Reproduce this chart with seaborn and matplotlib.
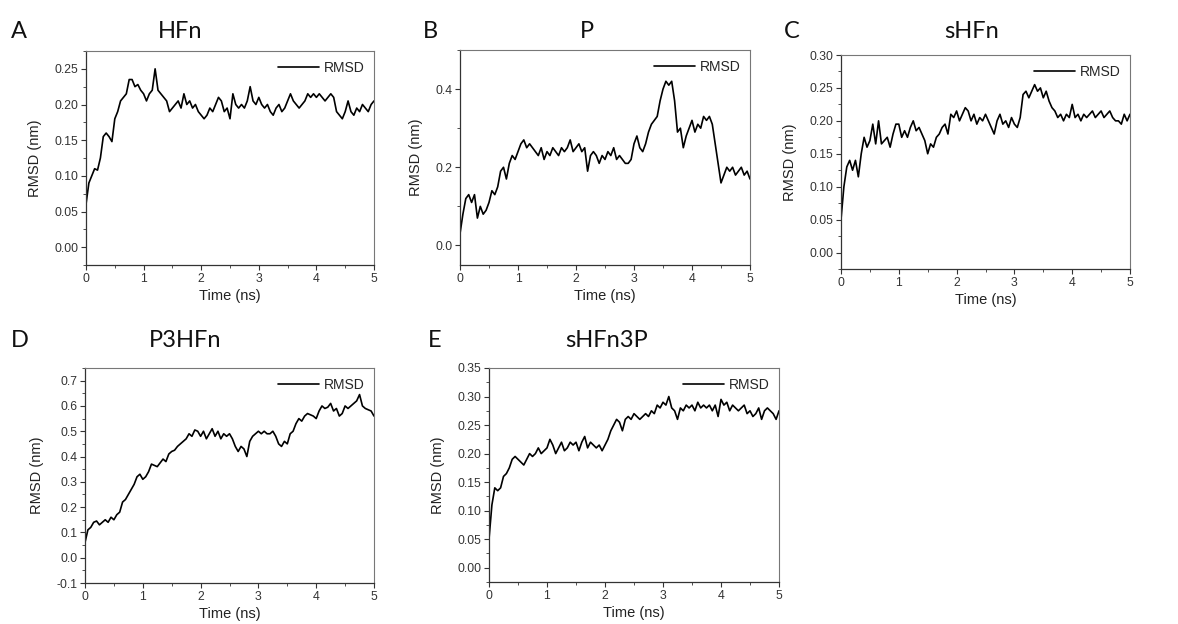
import seaborn as sns
import matplotlib.pyplot as plt
import matplotlib.ticker as mticker
import pandas as pd
import numpy as np

# time axis shared by all panels (ns), sampled every 0.05 ns
time_ns = [round(0.05 * i, 2) for i in range(101)]

rmsd_hfn = [
    0.060, 0.090, 0.100, 0.110, 0.108, 0.125, 0.155, 0.160, 0.155, 0.148,
    0.180, 0.190, 0.205, 0.210, 0.215, 0.235, 0.235, 0.225, 0.228, 0.220,
    0.215, 0.205, 0.215, 0.220, 0.250, 0.220, 0.215, 0.210, 0.205, 0.190,
    0.195, 0.200, 0.205, 0.195, 0.215, 0.200, 0.205, 0.195, 0.200, 0.190,
    0.185, 0.180, 0.185, 0.195, 0.190, 0.200, 0.210, 0.205, 0.190, 0.195,
    0.180, 0.215, 0.200, 0.195, 0.200, 0.195, 0.205, 0.225, 0.205, 0.200,
    0.210, 0.200, 0.195, 0.200, 0.190, 0.185, 0.195, 0.200, 0.190, 0.195,
    0.205, 0.215, 0.205, 0.200, 0.195, 0.200, 0.205, 0.215, 0.210, 0.215,
    0.210, 0.215, 0.210, 0.205, 0.210, 0.215, 0.210, 0.190, 0.185, 0.180,
    0.190, 0.205, 0.190, 0.185, 0.195, 0.190, 0.200, 0.195, 0.190, 0.200,
    0.205,
]

rmsd_p = [
    0.03, 0.08, 0.12, 0.13, 0.11, 0.13, 0.07, 0.10, 0.08, 0.09,
    0.11, 0.14, 0.13, 0.15, 0.19, 0.20, 0.17, 0.21, 0.23, 0.22,
    0.24, 0.26, 0.27, 0.25, 0.26, 0.25, 0.24, 0.23, 0.25, 0.22,
    0.24, 0.23, 0.25, 0.24, 0.23, 0.25, 0.24, 0.25, 0.27, 0.24,
    0.25, 0.26, 0.24, 0.25, 0.19, 0.23, 0.24, 0.23, 0.21, 0.23,
    0.22, 0.24, 0.23, 0.25, 0.22, 0.23, 0.22, 0.21, 0.21, 0.22,
    0.26, 0.28, 0.25, 0.24, 0.26, 0.29, 0.31, 0.32, 0.33, 0.37,
    0.40, 0.42, 0.41, 0.42, 0.37, 0.29, 0.30, 0.25, 0.28, 0.30,
    0.32, 0.29, 0.31, 0.30, 0.33, 0.32, 0.33, 0.31, 0.26, 0.21,
    0.16, 0.18, 0.20, 0.19, 0.20, 0.18, 0.19, 0.20, 0.18, 0.19,
    0.17,
]

rmsd_shfn = [
    0.050, 0.100, 0.130, 0.140, 0.125, 0.140, 0.115, 0.150, 0.175, 0.160,
    0.170, 0.195, 0.165, 0.200, 0.165, 0.170, 0.175, 0.160, 0.180, 0.195,
    0.195, 0.175, 0.185, 0.175, 0.190, 0.200, 0.185, 0.190, 0.180, 0.170,
    0.150, 0.165, 0.160, 0.175, 0.180, 0.190, 0.195, 0.180, 0.210, 0.205,
    0.215, 0.200, 0.210, 0.220, 0.215, 0.200, 0.210, 0.195, 0.205, 0.200,
    0.210, 0.200, 0.190, 0.180, 0.200, 0.210, 0.195, 0.200, 0.190, 0.205,
    0.195, 0.190, 0.205, 0.240, 0.245, 0.235, 0.245, 0.255, 0.245, 0.250,
    0.235, 0.245, 0.230, 0.220, 0.215, 0.205, 0.210, 0.200, 0.210, 0.205,
    0.225, 0.205, 0.210, 0.200, 0.210, 0.205, 0.210, 0.215, 0.205, 0.210,
    0.215, 0.205, 0.210, 0.215, 0.205, 0.200, 0.200, 0.195, 0.210, 0.200,
    0.210,
]

rmsd_p3hfn = [
    0.060, 0.110, 0.120, 0.140, 0.145, 0.130, 0.140, 0.150, 0.140, 0.160,
    0.150, 0.170, 0.180, 0.220, 0.230, 0.250, 0.270, 0.290, 0.320, 0.330,
    0.310, 0.320, 0.340, 0.370, 0.365, 0.360, 0.375, 0.390, 0.380, 0.410,
    0.420, 0.425, 0.440, 0.450, 0.460, 0.470, 0.490, 0.480, 0.505, 0.500,
    0.480, 0.500, 0.470, 0.490, 0.510, 0.480, 0.500, 0.470, 0.490, 0.480,
    0.490, 0.470, 0.440, 0.420, 0.440, 0.430, 0.400, 0.460, 0.480, 0.490,
    0.500, 0.490, 0.500, 0.490, 0.490, 0.500, 0.480, 0.450, 0.440, 0.460,
    0.450, 0.490, 0.500, 0.530, 0.550, 0.540, 0.560, 0.570, 0.565, 0.560,
    0.550, 0.580, 0.600, 0.590, 0.595, 0.610, 0.580, 0.590, 0.560, 0.570,
    0.600, 0.590, 0.600, 0.610, 0.620, 0.645, 0.600, 0.590, 0.585, 0.580,
    0.560,
]

rmsd_shfn3p = [
    0.050, 0.110, 0.140, 0.135, 0.140, 0.160, 0.165, 0.175, 0.190, 0.195,
    0.190, 0.185, 0.180, 0.190, 0.200, 0.195, 0.200, 0.210, 0.200, 0.205,
    0.210, 0.225, 0.215, 0.200, 0.210, 0.220, 0.205, 0.210, 0.220, 0.215,
    0.220, 0.205, 0.220, 0.230, 0.210, 0.220, 0.215, 0.210, 0.215, 0.205,
    0.215, 0.225, 0.240, 0.250, 0.260, 0.255, 0.240, 0.260, 0.265, 0.260,
    0.270, 0.265, 0.260, 0.265, 0.270, 0.265, 0.275, 0.270, 0.285, 0.280,
    0.290, 0.285, 0.300, 0.280, 0.275, 0.260, 0.280, 0.275, 0.285, 0.280,
    0.285, 0.275, 0.290, 0.280, 0.285, 0.280, 0.285, 0.275, 0.285, 0.265,
    0.295, 0.285, 0.290, 0.275, 0.285, 0.280, 0.275, 0.280, 0.285, 0.270,
    0.275, 0.265, 0.270, 0.280, 0.260, 0.275, 0.280, 0.275, 0.270, 0.260,
    0.275,
]

panel_letters = ["A", "B", "C", "D", "E"]
panel_titles = ["HFn", "P", "sHFn", "P3HFn", "sHFn3P"]
panel_series = [rmsd_hfn, rmsd_p, rmsd_shfn, rmsd_p3hfn, rmsd_shfn3p]

W, H = 1178, 624

# layout, in reference pixels: axes box (x0, y0, x1, y1), letter pos, title centre
layout = [
    dict(box=(86, 51, 374, 265), letter=(11, 31), title=(180, 31),
         ylim=(-0.025, 0.275), major=0.05, minor=0.025, fmt="%.2f"),
    dict(box=(460, 50, 750, 265), letter=(423, 31), title=(587, 31),
         ylim=(-0.05, 0.50), major=0.2, minor=0.1, fmt="%.1f"),
    dict(box=(841, 55, 1130, 269), letter=(784, 31), title=(972, 31),
         ylim=(-0.025, 0.30), major=0.05, minor=0.025, fmt="%.2f"),
    dict(box=(85, 368, 374, 583), letter=(11, 341), title=(185, 341),
         ylim=(-0.1, 0.75), major=0.1, minor=0.05, fmt="%.1f"),
    dict(box=(489, 368, 779, 582), letter=(428, 341), title=(607, 341),
         ylim=(-0.025, 0.35), major=0.05, minor=0.025, fmt="%.2f"),
]

sns.set_theme(style="ticks")
plt.rcParams["font.family"] = ["Liberation Sans", "DejaVu Sans"]

fig = plt.figure(figsize=(W / 100, H / 100), dpi=100)
fig.patch.set_facecolor("white")

for letter, title, series, lay in zip(panel_letters, panel_titles, panel_series, layout):
    x0, y0, x1, y1 = lay["box"]
    ax = fig.add_axes([x0 / W, 1 - y1 / H, (x1 - x0) / W, (y1 - y0) / H])
    df = pd.DataFrame({"Time (ns)": time_ns, "RMSD (nm)": series})
    sns.lineplot(data=df, x="Time (ns)", y="RMSD (nm)", ax=ax,
                 color="black", linewidth=1.2, label="RMSD")

    ax.set_xlim(0, 5)
    ax.set_ylim(*lay["ylim"])
    ax.xaxis.set_major_locator(mticker.MultipleLocator(1))
    ax.xaxis.set_minor_locator(mticker.MultipleLocator(0.5))
    ax.yaxis.set_major_locator(mticker.MultipleLocator(lay["major"]))
    ax.yaxis.set_minor_locator(mticker.MultipleLocator(lay["minor"]))
    ax.yaxis.set_major_formatter(mticker.FormatStrFormatter(lay["fmt"]))
    ax.tick_params(which="major", direction="out", length=3.5, width=0.8,
                   labelsize=8.8, colors="#333333", pad=2)
    ax.tick_params(which="minor", direction="out", length=2, width=0.6,
                   colors="#333333")
    for side in ["left", "bottom"]:
        ax.spines[side].set_color("#333333")
        ax.spines[side].set_linewidth(0.9)
    for side in ["top", "right"]:
        ax.spines[side].set_visible(True)
        ax.spines[side].set_color("#777777")
        ax.spines[side].set_linewidth(0.8)

    ax.set_xlabel("Time (ns)", fontsize=10.5, color="#222222", labelpad=3)
    ax.set_ylabel("RMSD (nm)", fontsize=10.5, color="#222222", labelpad=9)
    ax.legend(loc="upper right", frameon=False, fontsize=10,
              handlelength=3.0, handletextpad=0.3, borderaxespad=0.3)

    lx, ly = lay["letter"]
    fig.text(lx / W, 1 - ly / H, letter, fontsize=17, family=["Lato", "DejaVu Sans"],
             ha="left", va="center", color="#111111")
    tx, ty = lay["title"]
    fig.text(tx / W, 1 - ty / H, title, fontsize=17, family=["Lato", "DejaVu Sans"],
             ha="center", va="center", color="#111111")

fig.savefig("out.png", dpi=100, facecolor="white")
plt.close(fig)
